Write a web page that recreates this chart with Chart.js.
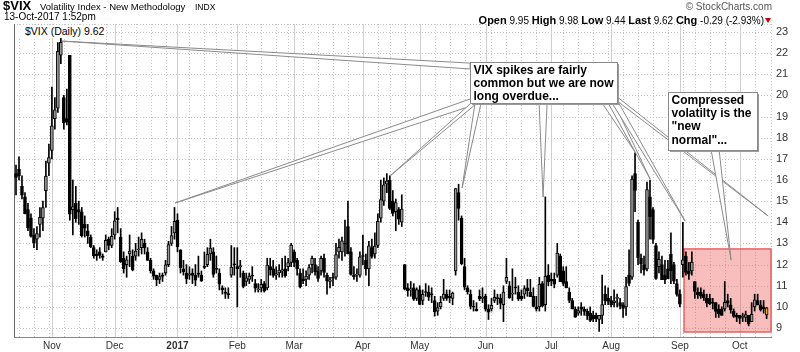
<!DOCTYPE html>
<html><head><meta charset="utf-8">
<script src="https://cdn.jsdelivr.net/npm/chart.js@4.4.0/dist/chart.umd.min.js"></script>
<style>
html,body{margin:0;padding:0;background:#fff;}
#wrap{position:relative;width:800px;height:352px;overflow:hidden;font-family:Arial,"Liberation Sans",sans-serif;}
canvas{position:absolute;left:0;top:0;}
.t{position:absolute;white-space:nowrap;color:#000;line-height:1;}
</style></head><body>
<div id="wrap">
<canvas id="c" width="800" height="352"></canvas>
<div class="t" style="left:3px;top:-1px;font-size:13px;font-weight:bold;">$VIX</div>
<div class="t" style="left:40px;top:2px;font-size:9.5px;">Volatility Index - New Methodology</div>
<div class="t" style="left:195px;top:3px;font-size:8.5px;">INDX</div>
<div class="t" style="left:4px;top:12px;font-size:10px;">13-Oct-2017 1:52pm</div>
<div class="t" style="right:28px;top:2px;font-size:10px;color:#555;">© StockCharts.com</div>
<div class="t" style="right:36px;top:15px;font-size:10px;"><b style="font-size:11px">Open</b> 9.95 <b style="font-size:11px">High</b> 9.98 <b style="font-size:11px">Low</b> 9.44 <b style="font-size:11px">Last</b> 9.62 <b style="font-size:11px">Chg</b> -0.29 (-2.93%)</div>
<div style="position:absolute;left:765px;top:18px;width:0;height:0;border-left:3px solid transparent;border-right:3px solid transparent;border-top:5px solid #c00;"></div>
<div class="t" style="left:15px;top:25px;font-size:10.5px;background:#fff;padding:1px 2px 1px 10px;">$VIX (Daily) 9.62</div>
</div>
<script>
const dates = [
"2016-10-14","2016-10-17","2016-10-18","2016-10-19","2016-10-20","2016-10-21","2016-10-24","2016-10-25","2016-10-26","2016-10-27","2016-10-28","2016-10-31",
"2016-11-01","2016-11-02","2016-11-03","2016-11-04","2016-11-07","2016-11-08","2016-11-09","2016-11-10","2016-11-11","2016-11-14","2016-11-15","2016-11-16","2016-11-17","2016-11-18","2016-11-21","2016-11-22","2016-11-23","2016-11-25","2016-11-28","2016-11-29","2016-11-30",
"2016-12-01","2016-12-02","2016-12-05","2016-12-06","2016-12-07","2016-12-08","2016-12-09","2016-12-12","2016-12-13","2016-12-14","2016-12-15","2016-12-16","2016-12-19","2016-12-20","2016-12-21","2016-12-22","2016-12-23","2016-12-27","2016-12-28","2016-12-29","2016-12-30",
"2017-01-03","2017-01-04","2017-01-05","2017-01-06","2017-01-09","2017-01-10","2017-01-11","2017-01-12","2017-01-13","2017-01-17","2017-01-18","2017-01-19","2017-01-20","2017-01-23","2017-01-24","2017-01-25","2017-01-26","2017-01-27","2017-01-30","2017-01-31",
"2017-02-01","2017-02-02","2017-02-03","2017-02-06","2017-02-07","2017-02-08","2017-02-09","2017-02-10","2017-02-13","2017-02-14","2017-02-15","2017-02-16","2017-02-17","2017-02-21","2017-02-22","2017-02-23","2017-02-24","2017-02-27","2017-02-28",
"2017-03-01","2017-03-02","2017-03-03","2017-03-06","2017-03-07","2017-03-08","2017-03-09","2017-03-10","2017-03-13","2017-03-14","2017-03-15","2017-03-16","2017-03-17","2017-03-20","2017-03-21","2017-03-22","2017-03-23","2017-03-24","2017-03-27","2017-03-28","2017-03-29","2017-03-30","2017-03-31",
"2017-04-03","2017-04-04","2017-04-05","2017-04-06","2017-04-07","2017-04-10","2017-04-11","2017-04-12","2017-04-13","2017-04-17","2017-04-18","2017-04-19","2017-04-20","2017-04-21","2017-04-24","2017-04-25","2017-04-26","2017-04-27","2017-04-28",
"2017-05-01","2017-05-02","2017-05-03","2017-05-04","2017-05-05","2017-05-08","2017-05-09","2017-05-10","2017-05-11","2017-05-12","2017-05-15","2017-05-16","2017-05-17","2017-05-18","2017-05-19","2017-05-22","2017-05-23","2017-05-24","2017-05-25","2017-05-26","2017-05-30","2017-05-31",
"2017-06-01","2017-06-02","2017-06-05","2017-06-06","2017-06-07","2017-06-08","2017-06-09","2017-06-12","2017-06-13","2017-06-14","2017-06-15","2017-06-16","2017-06-19","2017-06-20","2017-06-21","2017-06-22","2017-06-23","2017-06-26","2017-06-27","2017-06-28","2017-06-29","2017-06-30",
"2017-07-03","2017-07-05","2017-07-06","2017-07-07","2017-07-10","2017-07-11","2017-07-12","2017-07-13","2017-07-14","2017-07-17","2017-07-18","2017-07-19","2017-07-20","2017-07-21","2017-07-24","2017-07-25","2017-07-26","2017-07-27","2017-07-28","2017-07-31",
"2017-08-01","2017-08-02","2017-08-03","2017-08-04","2017-08-07","2017-08-08","2017-08-09","2017-08-10","2017-08-11","2017-08-14","2017-08-15","2017-08-16","2017-08-17","2017-08-18","2017-08-21","2017-08-22","2017-08-23","2017-08-24","2017-08-25","2017-08-28","2017-08-29","2017-08-30","2017-08-31",
"2017-09-01","2017-09-05","2017-09-06","2017-09-07","2017-09-08","2017-09-11","2017-09-12","2017-09-13","2017-09-14","2017-09-15","2017-09-18","2017-09-19","2017-09-20","2017-09-21","2017-09-22","2017-09-25","2017-09-26","2017-09-27","2017-09-28","2017-09-29",
"2017-10-02","2017-10-03","2017-10-04","2017-10-05","2017-10-06","2017-10-09","2017-10-10","2017-10-11","2017-10-12","2017-10-13"
];
const open = [
16.3,16.5,15.7,15.2,14.6,14.2,13.4,13.2,13.9,14.2,15.5,16.8,
17.4,18.9,19.4,21.9,19.9,18.9,21.9,14.6,14.9,14.6,14.5,13.9,13.6,13.3,12.8,12.5,12.6,12.4,12.6,13.2,12.9,
13.4,14.2,13.3,12.3,12.0,12.5,12.4,12.4,12.7,12.8,13.0,12.6,12.2,11.7,11.5,11.3,11.5,11.6,12.0,13.0,13.5,
14.1,12.7,11.8,11.6,11.5,11.6,11.5,11.6,11.5,11.9,12.0,12.5,12.6,11.8,11.6,10.9,10.7,10.6,11.5,12.0,
11.9,11.9,11.6,11.2,11.3,11.5,11.1,10.8,10.9,11.1,10.9,11.9,11.8,11.5,11.6,11.7,11.8,11.9,12.1,
12.6,12.2,11.6,11.3,11.3,11.5,12.0,12.0,11.7,11.7,12.3,11.5,11.2,11.4,11.4,12.6,12.6,13.0,13.8,12.6,11.5,11.5,11.5,
12.4,12.2,11.8,12.8,12.5,12.9,14.2,15.0,15.8,16.0,15.0,14.5,14.6,14.0,12.0,10.9,10.8,10.9,10.4,
10.8,10.3,10.7,10.7,10.6,10.3,9.8,10.0,10.4,10.6,10.5,10.4,11.7,15.4,14.2,11.9,10.9,10.6,10.0,9.9,10.5,10.4,
10.5,9.9,9.9,10.3,10.4,10.4,10.1,11.2,11.0,10.6,10.9,10.7,10.5,10.6,10.9,10.7,10.5,10.0,10.0,11.1,10.1,11.5,
11.3,11.3,11.5,12.4,11.7,11.2,10.7,10.3,9.9,9.7,10.0,9.9,9.8,9.7,9.6,9.6,9.4,9.6,10.6,10.4,
10.3,10.2,10.4,10.2,10.1,10.0,11.5,11.4,16.3,14.0,12.3,12.0,11.8,15.2,14.6,12.9,11.9,12.0,11.5,11.8,12.5,12.0,11.1,
10.6,12.0,12.4,11.7,11.7,11.2,10.7,10.7,10.6,10.4,10.4,10.2,10.2,9.9,9.9,9.9,10.3,10.1,9.8,9.6,
9.6,9.5,9.5,9.6,9.3,10.0,10.3,10.1,10.0,9.95
];
const high = [
16.7,17.1,16.2,15.4,14.9,14.4,13.7,13.8,14.7,15.0,16.9,17.7,
20.4,19.9,22.5,22.9,20.0,20.3,21.9,16.0,15.7,15.0,14.7,14.3,13.9,13.4,12.9,12.7,12.8,12.5,13.4,13.3,13.7,
14.5,14.7,13.7,12.6,12.4,13.4,12.7,13.0,13.3,13.5,13.2,12.8,12.3,11.8,11.5,11.6,11.6,12.2,13.1,13.8,14.7,
14.4,12.7,12.2,12.0,11.9,11.8,12.0,12.4,11.7,12.6,12.8,13.2,12.8,12.4,11.8,11.0,10.9,10.9,12.9,12.8,
12.8,12.2,11.7,11.6,11.6,11.9,11.3,11.1,11.3,11.2,12.3,12.3,12.2,11.9,12.0,12.3,12.4,12.3,13.0,
12.7,12.3,11.8,11.8,11.7,12.0,12.4,12.3,11.9,12.4,12.5,11.6,11.4,11.6,13.0,13.2,13.3,14.1,15.0,12.8,11.9,11.8,12.6,
13.4,12.5,13.1,13.2,13.5,14.4,16.0,16.1,16.3,16.2,15.5,15.1,14.7,15.3,12.0,11.1,11.2,11.1,10.9,
11.0,10.8,11.1,11.0,10.9,10.5,10.2,10.5,11.3,10.8,10.8,10.7,15.6,15.8,14.3,12.3,11.0,10.8,10.3,10.2,10.8,10.9,
10.6,10.1,10.4,10.8,10.6,10.6,11.0,12.3,11.2,11.8,11.4,11.0,10.8,11.0,11.3,11.3,10.9,10.5,11.4,11.2,15.2,12.0,
11.6,11.6,13.0,12.5,11.9,11.9,10.9,10.4,10.0,10.0,10.2,10.0,9.9,10.0,9.8,9.7,9.6,11.5,11.0,10.9,
10.5,10.8,10.6,10.4,10.2,11.4,12.7,16.2,17.28,14.1,12.5,12.4,15.9,16.0,14.7,13.0,12.6,12.4,12.2,12.2,13.5,12.1,11.3,
10.8,14.0,12.6,12.1,12.6,11.2,10.9,10.9,10.8,10.6,10.6,10.4,10.2,10.1,10.0,11.2,10.6,10.4,9.9,9.7,
9.6,9.7,9.8,9.6,10.2,10.6,10.6,10.3,10.3,9.98
];
const low = [
15.3,16.0,15.1,14.4,13.6,13.3,12.8,12.7,13.3,13.6,14.7,16.2,
17.0,18.4,19.2,21.5,18.4,18.6,14.1,13.4,14.0,13.9,13.3,13.3,13.0,12.8,12.3,12.2,12.3,12.2,12.6,12.7,12.8,
13.2,13.5,12.1,11.6,11.4,11.9,11.7,12.2,12.4,12.5,12.5,12.2,11.6,11.3,11.0,11.1,11.2,11.5,11.9,12.9,13.2,
12.6,11.6,11.5,11.1,11.3,11.1,11.0,11.4,11.2,11.8,11.9,12.2,11.4,11.6,10.8,10.6,10.4,10.4,11.4,11.5,
10.0,11.4,10.9,11.0,11.1,11.2,10.7,10.7,10.7,10.7,10.8,11.5,11.4,11.3,11.4,11.4,11.4,11.7,11.9,
11.9,11.5,10.9,11.1,11.0,11.3,11.6,11.5,11.2,11.5,11.4,10.6,10.9,11.0,11.3,12.3,12.2,12.4,12.5,11.5,11.3,11.2,11.4,
12.0,11.5,11.0,12.3,12.3,12.8,14.0,14.8,15.4,14.6,14.3,13.6,13.9,13.8,10.8,10.5,10.5,10.3,10.3,
10.1,10.1,10.5,10.3,10.2,9.56,9.6,9.9,10.3,10.3,10.2,10.1,11.5,14.1,12.0,10.8,10.6,9.9,9.8,9.8,10.3,10.2,
9.8,9.4,9.8,10.2,10.1,9.9,9.3,11.1,10.4,10.3,10.6,10.3,10.3,10.4,10.5,10.5,10.0,9.8,9.8,10.0,9.8,11.0,
11.0,10.9,11.4,11.2,11.0,10.9,10.2,9.9,9.5,9.6,9.6,9.6,9.4,9.3,9.3,9.3,8.84,9.2,10.1,10.1,
10.0,10.0,10.0,9.9,9.5,9.6,11.0,11.3,14.5,12.0,11.6,11.5,11.7,13.2,13.0,11.3,11.6,11.4,11.1,11.4,11.1,11.1,10.5,
10.0,11.4,11.5,11.3,11.5,10.4,10.4,10.4,10.3,10.0,10.1,9.9,9.5,9.5,9.6,9.8,10.0,9.7,9.5,9.3,
9.2,9.3,9.3,9.1,9.3,9.8,10.1,9.8,9.7,9.44
];
const close = [
16.12,16.21,15.28,14.41,13.75,13.34,13.02,13.46,14.24,14.7,16.19,17.06,
18.56,19.32,22.08,22.51,18.71,18.74,14.38,14.74,14.17,14.48,13.37,13.72,13.35,12.85,12.42,12.41,12.43,12.34,13.15,12.90,13.33,
14.07,14.12,12.14,11.79,12.22,12.64,11.75,12.64,12.72,13.19,12.79,12.20,11.71,11.45,11.27,11.43,11.44,11.99,12.95,13.37,14.04,
12.85,11.85,11.67,11.32,11.56,11.49,11.26,11.54,11.23,11.87,12.48,12.78,11.54,11.77,11.07,10.81,10.63,10.58,11.88,11.99,
11.81,11.93,10.97,11.37,11.45,11.45,10.88,10.85,11.07,10.74,11.97,11.76,11.49,11.57,11.74,11.71,11.47,12.09,12.92,
12.1,11.81,10.96,11.24,11.45,11.86,12.30,11.66,11.35,12.30,11.63,11.21,11.28,11.34,12.47,12.81,13.12,12.96,12.50,11.53,11.42,11.54,12.37,
12.38,11.79,12.89,12.39,12.87,14.05,15.07,15.77,15.96,14.66,14.42,14.93,14.15,14.63,10.84,10.76,10.85,10.36,10.82,
10.11,10.59,10.68,10.46,10.57,9.77,9.96,10.21,10.60,10.40,10.42,10.65,15.59,14.66,12.04,10.93,10.72,10.02,9.99,9.81,10.38,10.41,
9.89,9.75,10.07,10.45,10.39,10.16,10.70,11.40,10.42,10.64,10.90,10.38,10.37,10.86,10.75,10.48,10.02,9.90,11.06,10.03,11.44,11.18,
11.22,11.07,12.54,11.19,11.11,10.89,10.30,9.90,9.51,9.82,9.89,9.79,9.58,9.36,9.43,9.43,9.60,10.11,10.29,10.26,
10.09,10.28,10.44,10.03,9.93,10.96,11.11,16.04,15.51,12.33,12.04,11.74,15.55,14.26,13.19,11.35,12.25,11.28,11.28,11.32,11.70,11.22,10.59,
10.13,12.23,11.63,11.55,12.12,10.73,10.58,10.50,10.44,10.17,10.15,10.18,9.78,9.67,9.59,10.21,10.17,9.87,9.55,9.51,
9.45,9.51,9.63,9.19,9.65,10.33,10.08,9.85,9.91,9.62
];
const yTickValues = [9,10,11,12,13,14,15,16,17,18,19,20,21,22,23];
const monthTickLabels = ['Nov','Dec','2017','Feb','Mar','Apr','May','Jun','Jul','Aug','Sep','Oct'];

// annotations (data coordinates: [bar index, value])
const highlightZone = {from: 223.4, top: 12.74, bottom: 8.81};
const callouts = [
  { box:[151.84, 21.58, 201.0, 19.64],
    lines:['VIX spikes are fairly','common but we are now','long overdue...'],
    pointers:[
      {tip:[15.38,22.57], base:[[151.84,21.53],[151.84,21.25]]},
      {tip:[53.18,14.91], base:[[151.84,19.83],[155.18,19.64]]},
      {tip:[125.08,16.19], base:[[152.17,19.64],[154.18,19.64]]},
      {tip:[149.16,15.62], base:[[153.51,19.64],[155.52,19.64]]},
      {tip:[176.25,15.19], base:[[174.92,19.64],[177.59,19.64]]},
      {tip:[207.02,17.32], base:[[195.99,19.64],[198.33,19.64]]},
      {tip:[212.04,16.05], base:[[198.0,19.64],[200.0,19.64]]},
      {tip:[223.75,14.06], base:[[199.33,19.64],[201.0,19.78]]},
      {tip:[251.5,14.30], base:[[200.67,19.97],[201.0,19.74]]}
    ]},
  { box:[218.1, 20.16, 247.8, 17.42],
    lines:['Compressed','volatilty is the','"new','normal"...'],
    pointers:[ {tip:[239.13,12.21], base:[[232.44,17.42],[235.12,17.42]]} ]}
];

const idx = dates.map((d,i)=>i);
const monthStarts = idx.filter(i=>i>0 && dates[i].slice(5,7)!==dates[i-1].slice(5,7));
const dow = s=>new Date(s+'T00:00:00Z').getUTCDay();
const weekStarts = idx.filter(i=>i>0 && dow(dates[i])<=dow(dates[i-1]));

const gridPlugin = {
  id:'gridbg',
  beforeDatasetsDraw(chart){
    const {ctx, chartArea:a, scales:{x,y}} = chart;
    ctx.save();
    ctx.lineWidth = 1;
    const ln=(x1,y1,x2,y2)=>{ctx.beginPath();ctx.moveTo(x1,y1);ctx.lineTo(x2,y2);ctx.stroke();};
    ctx.strokeStyle='#c4c4c4'; ctx.setLineDash([1,2]);
    yTickValues.forEach(v=>{const py=Math.round(y.getPixelForValue(v))+0.5; ln(a.left,py,a.right,py);});
    weekStarts.forEach(i=>{ if(monthStarts.includes(i)) return; const px=Math.round(x.getPixelForValue(i))+0.5; ln(px,a.top,px,a.bottom);});
    ln(a.right-0.5,a.top,a.right-0.5,a.bottom);
    ln(a.left,a.top+0.5,a.right,a.top+0.5);
    ctx.setLineDash([]); ctx.strokeStyle='#cfcfcf';
    monthStarts.forEach(i=>{const px=Math.round(x.getPixelForValue(i))+0.5; ln(px,a.top,px,a.bottom);});
    // highlight zone
    const zx=x.getPixelForValue(highlightZone.from), zt=y.getPixelForValue(highlightZone.top), zb=y.getPixelForValue(highlightZone.bottom);
    ctx.fillStyle='rgba(235,80,80,0.37)';
    ctx.fillRect(zx,zt,a.right-zx,zb-zt);
    ctx.strokeStyle='rgba(230,95,95,0.95)'; ctx.lineWidth=1.5;
    ctx.strokeRect(zx,zt,a.right-zx-1,zb-zt);
    // frame
    ctx.lineWidth=1; ctx.strokeStyle='#666';
    ln(a.left+0.5,a.top,a.left+0.5,a.bottom);
    ctx.strokeStyle='#888';
    ln(a.left,a.bottom-0.5,a.right,a.bottom-0.5);
    ctx.restore();
  }
};

const annoPlugin = {
  id:'callouts',
  afterDatasetsDraw(chart){
    const {ctx, scales:{x,y}} = chart;
    const P=(p)=>[x.getPixelForValue(p[0]), y.getPixelForValue(p[1])];
    ctx.save();
    callouts.forEach(c=>{
      c.pointers.forEach(p=>{
        const t=P(p.tip), b1=P(p.base[0]), b2=P(p.base[1]);
        ctx.beginPath(); ctx.moveTo(b1[0],b1[1]); ctx.lineTo(t[0],t[1]); ctx.lineTo(b2[0],b2[1]); ctx.closePath();
        ctx.fillStyle='#fff'; ctx.fill();
        ctx.strokeStyle='#8a8a8a'; ctx.lineWidth=1; ctx.stroke();
      });
    });
    callouts.forEach(c=>{
      const tl=P([c.box[0],c.box[1]]), br=P([c.box[2],c.box[3]]);
      const bx=Math.round(tl[0])+0.5, by=Math.round(tl[1])+0.5, bw=Math.round(br[0]-tl[0]), bh=Math.round(br[1]-tl[1]);
      ctx.fillStyle='#9a9a9a'; ctx.fillRect(bx+1.5,by+1.5,bw,bh);
      ctx.fillStyle='#fff'; ctx.fillRect(bx,by,bw,bh);
      ctx.strokeStyle='#8a8a8a'; ctx.lineWidth=1; ctx.strokeRect(bx,by,bw,bh);
      ctx.fillStyle='#000'; ctx.font='bold 12px Arial, "Liberation Sans", sans-serif'; ctx.textBaseline='alphabetic';
      c.lines.forEach((s,k)=>ctx.fillText(s, bx+3, by+11.5+k*13.2));
    });
    ctx.restore();
  }
};

const last = dates.length-1;
new Chart(document.getElementById('c'), {
  type:'bar',
  data:{ datasets:[
    { label:'High-Low', data: idx.map(i=>({x:i, y:[low[i], high[i]]})), backgroundColor:'#000', barThickness:1, grouped:false, order:2 },
    { label:'Open-Close', data: idx.map(i=>({x:i, y:[open[i], close[i]]})),
      backgroundColor: c=> c.dataIndex===last ? '#f5b400' : (close[c.dataIndex]>open[c.dataIndex] ? '#9a9a9a' : '#000'),
      borderColor:'#000', borderWidth:1, borderSkipped:false, barThickness:3, minBarLength:1, grouped:false, order:1 }
  ]},
  options:{
    responsive:false, animation:false, devicePixelRatio:1,
    layout:{padding:{top:24,left:14,right:0,bottom:0}},
    plugins:{legend:{display:false}, tooltip:{enabled:false}},
    scales:{
      x:{ type:'linear', min:-0.67, max:252.8, offset:false,
          grid:{display:false, drawTicks:false, offset:false}, border:{display:false},
          afterBuildTicks:s=>{ s.ticks = monthStarts.map(v=>({value:v})); },
          afterFit:s=>{ s.height = 14; },
          ticks:{ autoSkip:false, maxRotation:0, padding:2, color:'#333',
                  font:c=>({family:'Arial, "Liberation Sans", sans-serif', size:10, weight:(c.tick && c.tick.value===monthStarts[2])?'bold':'normal'}),
                  callback:v=>{ const k=monthStarts.indexOf(v); return k>=0 ? monthTickLabels[k] : ''; } } },
      y:{ position:'right', min:8.527, max:23.378,
          grid:{display:false, drawTicks:false}, border:{display:false},
          afterBuildTicks:s=>{ s.ticks = yTickValues.map(v=>({value:v})); },
          afterFit:s=>{ s.width = 28; },
          ticks:{ padding:4, color:'#333', font:{family:'Arial, "Liberation Sans", sans-serif', size:11} } }
    }
  },
  plugins:[gridPlugin, annoPlugin]
});
</script>
</body></html>
